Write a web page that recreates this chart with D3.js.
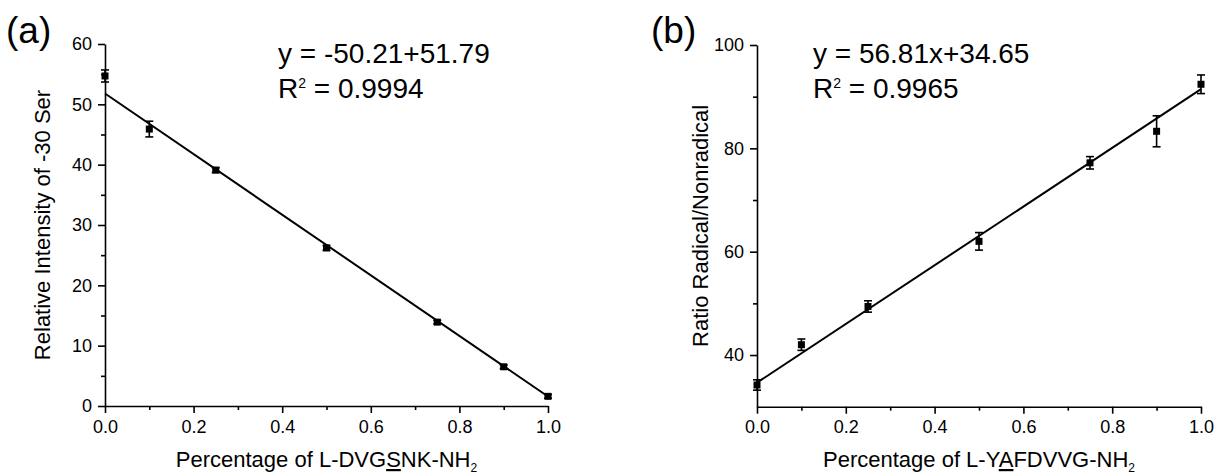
<!DOCTYPE html>
<html>
<head>
<meta charset="utf-8">
<script src="https://cdn.jsdelivr.net/npm/d3@7"></script>
<style>
  html, body { margin: 0; padding: 0; background: #fff; }
  svg { display: block; font-family: "Liberation Sans", Arial, Helvetica, sans-serif; }
  .domain, .tick line { stroke: #000; stroke-width: 1.6px; }
</style>
</head>
<body>
<svg id="chart" width="1217" height="476"></svg>
<script>
// Calibration data: fraction of the labelled peptide vs. measured response
const fractionA = [0, 0.1, 0.25, 0.5, 0.75, 0.9, 1.0];
const intensityA = [54.7, 45.9, 39.1, 26.2, 13.9, 6.5, 1.6];
const errorA = [1.0, 1.3, 0.4, 0.4, 0.3, 0.3, 0.3];
const fitA = { slope: -50.21, intercept: 51.79 };

const fractionB = [0, 0.1, 0.25, 0.5, 0.75, 0.9, 1.0];
const ratioB = [34.2, 42.0, 49.4, 62.0, 77.2, 83.3, 92.4];
const errorB = [1.0, 1.1, 1.1, 1.7, 1.2, 3.0, 1.8];
const fitB = { slope: 56.81, intercept: 34.65 };

const xTicks = [0, 0.2, 0.4, 0.6, 0.8, 1.0];
const xMinorTicks = [0.1, 0.3, 0.5, 0.7, 0.9];
const yTicksA = [0, 10, 20, 30, 40, 50, 60];
const yMinorTicksA = [5, 15, 25, 35, 45, 55];
const yTicksB = [40, 60, 80, 100];
const yMinorTicksB = [50, 70, 90];

const FONT = '"Liberation Sans", Arial, Helvetica, sans-serif';
const svg = d3.select("#chart");

const panels = [
  {
    tag: "(a)", tagX: 6, tagY: 43,
    xs: fractionA, ys: intensityA, errs: errorA, fit: fitA,
    xRange: [105, 548], yDomain: [0, 60], yRange: [406, 44],
    yTicks: yTicksA, yMinor: yMinorTicksA,
    eq: "y = -50.21+51.79", r2: "0.9994", eqX: 278,
    yTitle: "Relative Intensity of -30 Ser", yTitleX: 50,
    xTitle: ["Percentage of L-DVG", "S", "NK-NH"]
  },
  {
    tag: "(b)", tagX: 651, tagY: 43,
    xs: fractionB, ys: ratioB, errs: errorB, fit: fitB,
    xRange: [757, 1201], yDomain: [30, 100], yRange: [406.7, 45],
    yTicks: yTicksB, yMinor: yMinorTicksB,
    eq: "y = 56.81x+34.65", r2: "0.9965", eqX: 813,
    yTitle: "Ratio Radical/Nonradical", yTitleX: 708,
    xTitle: ["Percentage of L-Y", "A", "FDVVG-NH"]
  }
];

panels.forEach(p => {
  const x = d3.scaleLinear().domain([0, 1]).range(p.xRange);
  const y = d3.scaleLinear().domain(p.yDomain).range(p.yRange);
  const g = svg.append("g");

  // regression line across the full x range
  const fitLine = d3.line().x(d => x(d)).y(d => y(p.fit.slope * d + p.fit.intercept));
  g.append("path")
    .datum([0, 1])
    .attr("d", fitLine)
    .attr("fill", "none")
    .attr("stroke", "#000")
    .attr("stroke-width", 2);

  // error bars with caps
  const pts = p.xs.map((v, i) => ({ x: v, y: p.ys[i], e: p.errs[i] }));
  const capW = 4;
  const eb = g.append("g").attr("stroke", "#000").attr("stroke-width", 1.6);
  pts.forEach(d => {
    const cx = x(d.x), top = y(d.y + d.e), bot = y(d.y - d.e);
    eb.append("line").attr("x1", cx).attr("x2", cx).attr("y1", top).attr("y2", bot);
    eb.append("line").attr("x1", cx - capW).attr("x2", cx + capW).attr("y1", top).attr("y2", top);
    eb.append("line").attr("x1", cx - capW).attr("x2", cx + capW).attr("y1", bot).attr("y2", bot);
  });

  // square markers
  const s = 7;
  g.selectAll("rect.pt").data(pts).enter().append("rect")
    .attr("class", "pt")
    .attr("x", d => x(d.x) - s / 2)
    .attr("y", d => y(d.y) - s / 2)
    .attr("width", s).attr("height", s)
    .attr("fill", "#000");

  // axes: major ticks with labels, then unlabeled minor ticks
  const y0 = p.yRange[0];
  const x0 = p.xRange[0];
  const styleAxis = sel => sel.attr("font-family", FONT).attr("font-size", 18)
    .selectAll(".tick text").attr("fill", "#000");
  g.append("g").attr("transform", `translate(0,${y0})`)
    .call(d3.axisBottom(x).tickValues(xTicks).tickFormat(d3.format(".1f"))
      .tickSize(7).tickSizeOuter(0).tickPadding(7))
    .call(styleAxis);
  g.append("g").attr("transform", `translate(0,${y0})`)
    .call(d3.axisBottom(x).tickValues(xMinorTicks).tickFormat("").tickSize(4).tickSizeOuter(0))
    .select(".domain").remove();
  g.append("g").attr("transform", `translate(${x0},0)`)
    .call(d3.axisLeft(y).tickValues(p.yTicks).tickFormat(d3.format("d"))
      .tickSize(7).tickSizeOuter(0).tickPadding(6))
    .call(styleAxis);
  g.append("g").attr("transform", `translate(${x0},0)`)
    .call(d3.axisLeft(y).tickValues(p.yMinor).tickFormat("").tickSize(4).tickSizeOuter(0))
    .select(".domain").remove();

  // panel tag
  g.append("text").attr("x", p.tagX).attr("y", p.tagY)
    .attr("font-size", 37).text(p.tag);

  // fit equation and R²
  g.append("text").attr("x", p.eqX).attr("y", 63)
    .attr("font-size", 28).text(p.eq);
  const r = g.append("text").attr("x", p.eqX).attr("y", 98).attr("font-size", 28);
  r.append("tspan").text("R");
  r.append("tspan").attr("font-size", 14).attr("dy", -10.5).text("2");
  r.append("tspan").attr("dy", 10.5).text(" = " + p.r2);

  // axis titles
  const midX = (p.xRange[0] + p.xRange[1]) / 2;
  const xt = g.append("text").attr("x", midX).attr("y", 467)
    .attr("text-anchor", "middle").attr("font-size", 22);
  xt.append("tspan").text(p.xTitle[0]);
  xt.append("tspan").style("text-decoration", "underline").text(p.xTitle[1]);
  xt.append("tspan").text(p.xTitle[2]);
  xt.append("tspan").attr("font-size", 12).attr("dy", 5).text("2");

  const midY = (p.yRange[0] + p.yRange[1]) / 2;
  g.append("text")
    .attr("transform", `translate(${p.yTitleX},${midY}) rotate(-90)`)
    .attr("text-anchor", "middle").attr("font-size", 22)
    .text(p.yTitle);
});
</script>
</body>
</html>
